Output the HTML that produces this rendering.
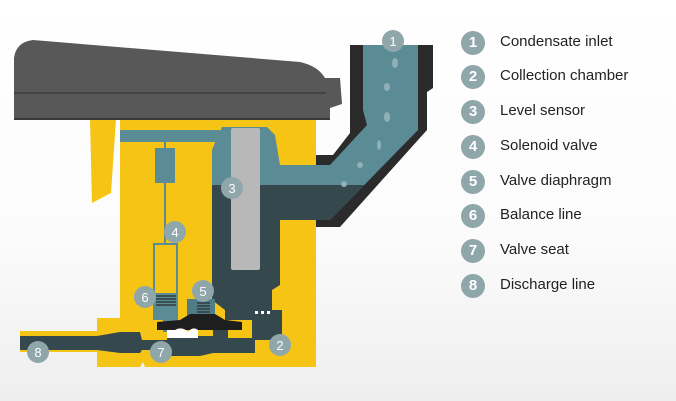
<!DOCTYPE html>
<html><head><meta charset="utf-8"><style>
html,body{margin:0;padding:0;}
body{width:676px;height:401px;overflow:hidden;background:linear-gradient(#ffffff 0%,#fbfbfb 60%,#eeeeee 100%);position:relative;font-family:"Liberation Sans",sans-serif;}
.leg{position:absolute;left:460px;}
.leg div{position:absolute;left:0;height:24px;width:220px;}
.c{position:absolute;left:1px;top:0;width:24px;height:24px;border-radius:50%;background:#8fa6aa;color:#fff;font-weight:bold;font-size:15px;text-align:center;line-height:24px;}
.t{position:absolute;left:40px;top:2px;font-size:15px;color:#222;white-space:nowrap;}
</style></head><body>
<svg width="676" height="401" style="position:absolute;left:0;top:0">
<!-- yellow body -->
<path d="M120,120 L316,120 L316,367 L145,367 L143,362 L140,367 L97,367 L97,318 L120,318 Z" fill="#f6c414"/>
<path d="M90,120 L116,120 L111,193 L92,203 Z" fill="#f6c414"/>
<path d="M20,331 L97,331 L97,352 L20,352 Z" fill="#f6c414"/>
<!-- top channel -->
<path d="M120,130 L220,130 L220,142 L120,142 Z" fill="#5b8c96"/>
<!-- pipe outer -->
<path d="M350,45 L433,45 L433,88 L427,92 L427,130 L340,227 L316,227 L316,155 L333,155 L350,133 Z" fill="#2b2b2b"/>
<!-- pipe inner -->
<path d="M363,45 L418,45 L418,130 L330,220 L316,220 L316,165 L330,165 L367,125 L363,110 Z" fill="#5b8c96"/>
<!-- chamber light part -->
<path d="M222,127 L267,127 L275,135 L280,165 L330,165 L330,185 L212,185 L212,150 L218,135 Z" fill="#5b8c96"/>
<!-- dark chamber + water -->
<path d="M212,185 L364,185 L330,220 L280,220 L280,285 L272,290 L272,310 L282,310 L282,340 L255,340 L255,353 L218,353 L218,328 L225,328 L225,310 L212,300 Z" fill="#34484e"/>
<rect x="228" y="320" width="24" height="18" fill="#f6c414"/>
<g fill="#8fb0b6"><ellipse cx="395" cy="63" rx="3" ry="5"/><ellipse cx="387" cy="87" rx="3" ry="4"/><ellipse cx="387" cy="117" rx="3" ry="5"/><ellipse cx="379" cy="145" rx="2" ry="5"/><ellipse cx="360" cy="165" rx="3" ry="3"/><ellipse cx="344" cy="184" rx="3" ry="3"/></g>
<!-- sensor -->
<rect x="231" y="128" width="29" height="142" rx="2" fill="#b8b8b8"/>
<!-- solenoid -->
<rect x="155" y="148" width="20" height="35" fill="#5b8c96"/>
<rect x="164" y="142" width="2" height="6" fill="#5b8c96"/>
<rect x="164" y="183" width="2" height="60" fill="#5b8c96"/>
<rect x="154" y="244" width="23" height="60" fill="none" stroke="#5b8c96" stroke-width="2"/>
<rect x="153" y="293" width="25" height="27" fill="#5b8c96"/>
<rect x="163" y="318" width="15" height="14" fill="#5b8c96"/>
<g stroke="#2b2b2b" stroke-width="1.2"><line x1="156" y1="296" x2="176" y2="296"/><line x1="156" y1="299" x2="176" y2="299"/><line x1="156" y1="302" x2="176" y2="302"/><line x1="156" y1="305" x2="176" y2="305"/></g>
<!-- valve 5 housing -->
<path d="M187,299 L215,299 L215,318 L187,318 Z" fill="#4f7c86"/>
<g stroke="#2b2b2b" stroke-width="1.2"><line x1="197" y1="303" x2="210" y2="303"/><line x1="197" y1="306" x2="210" y2="306"/><line x1="197" y1="309" x2="210" y2="309"/><line x1="197" y1="312" x2="210" y2="312"/></g>
<!-- discharge line -->
<path d="M20,336 L97,336 L120,332 L140,332 L142,340 L167,340 L167,336 L213,336 L213,330 L225,330 L225,353 L213,353 L200,356 L170,356 L160,350 L142,350 L140,353 L120,353 L97,350 L20,350 Z" fill="#34484e"/>
<path d="M157,322 L180,320 L190,314 L215,314 L225,320 L242,322 L242,330 L157,330 Z" fill="#1e1e1e"/>
<path d="M167,330 L175,330 Q182,326 188,332 Q193,326 198,330 L198,338 L167,338 Z" fill="#ffffff"/>
<g fill="#fff"><rect x="255" y="311" width="3" height="3"/><rect x="261" y="311" width="3" height="3"/><rect x="267" y="311" width="3" height="3"/></g>
<!-- lid -->
<path d="M14,120 L14,58 Q16,42 33,40 L300,62 Q318,66 325,78 L340,78 L342,104 L330,108 L330,120 Z" fill="#585858"/>
<line x1="14" y1="93" x2="326" y2="93" stroke="#3e3e3e" stroke-width="1.5"/>
<line x1="14" y1="119" x2="330" y2="119" stroke="#3a3a3a" stroke-width="2"/>
<!-- markers -->
<g fill="#8fa6aa" font-family="Liberation Sans,sans-serif" font-size="13" text-anchor="middle">
<circle cx="393" cy="41" r="11"/><circle cx="280" cy="345" r="11"/><circle cx="232" cy="188" r="11"/><circle cx="175" cy="232" r="11"/><circle cx="203" cy="291" r="11"/><circle cx="145" cy="297" r="11"/><circle cx="161" cy="352" r="11"/><circle cx="38" cy="352" r="11"/>
<g fill="#fff"><text x="393" y="46">1</text><text x="280" y="350">2</text><text x="232" y="193">3</text><text x="175" y="237">4</text><text x="203" y="296">5</text><text x="145" y="302">6</text><text x="161" y="357">7</text><text x="38" y="357">8</text></g>
</g>
</svg>
<div class="leg">
<div style="top:31px"><span class="c">1</span><span class="t">Condensate inlet</span></div>
<div style="top:65px"><span class="c">2</span><span class="t">Collection chamber</span></div>
<div style="top:100px"><span class="c">3</span><span class="t">Level sensor</span></div>
<div style="top:135px"><span class="c">4</span><span class="t">Solenoid valve</span></div>
<div style="top:170px"><span class="c">5</span><span class="t">Valve diaphragm</span></div>
<div style="top:204px"><span class="c">6</span><span class="t">Balance line</span></div>
<div style="top:239px"><span class="c">7</span><span class="t">Valve seat</span></div>
<div style="top:274px"><span class="c">8</span><span class="t">Discharge line</span></div>
</div>
</body></html>
